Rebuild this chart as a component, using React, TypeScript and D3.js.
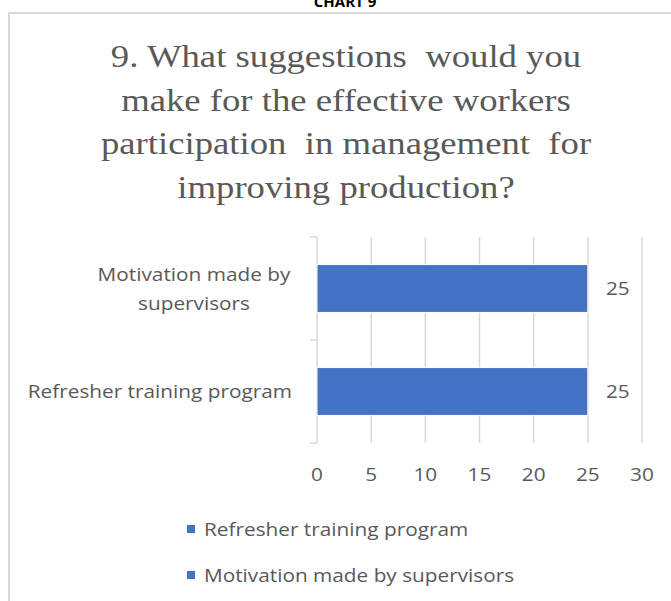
import React from "react";
import * as d3 from "d3";

const categories = ["Refresher training program", "Motivation made by supervisors"];
const values = [25, 25];
const xTicks = [0, 5, 10, 15, 20, 25, 30];
const catLines: Record<string, string[]> = {
  "Refresher training program": ["Refresher training program"],
  "Motivation made by supervisors": ["Motivation made by", "supervisors"],
};
const titleLines = [
  "9. What suggestions  would you",
  "make for the effective workers",
  "participation  in management  for",
  "improving production?",
];
const legendItems = ["Refresher training program", "Motivation made by supervisors"];

const W = 671;
const H = 601;
const SANS = "'Open Sans', 'Noto Sans', sans-serif";
const GRAY = "#595959";
const GRID = "#d9d9d9";
const BLUE = "#4472C4";
const STRETCH = 1.155;

function SText({ x, y, anchor = "start", children, size = 18 }: any) {
  return (
    <g transform={`translate(${x}, ${y}) scale(${STRETCH}, 1)`}>
      <text
        x={0}
        y={0}
        textAnchor={anchor}
        dominantBaseline="central"
        fontFamily={SANS}
        fontSize={size}
        fill={GRAY}
      >
        {children}
      </text>
    </g>
  );
}

export default function App() {
  const x = d3.scaleLinear().domain([0, 30]).range([317, 642]);
  const y = d3
    .scaleBand<string>()
    .domain([...categories].reverse())
    .range([237, 443])
    .paddingInner(0.535)
    .paddingOuter(0.2675);
  const top = 237;
  const bottom = 443;
  const boundaries = d3.range(categories.length + 1).map((i) => top + (i * (bottom - top)) / categories.length);

  return (
    <div style={{ position: "absolute", left: 0, top: 0 }}>
      <svg width={W} height={H} style={{ display: "block", background: "#fff" }}>
        <text x={345} y={7} textAnchor="middle" fontFamily={SANS} fontWeight="bold" fontSize={15} fill="#000">
          CHART 9
        </text>
        <path d={`M9,${H} V13 H${W}`} fill="none" stroke={GRID} strokeWidth={2} />
        {titleLines.map((t, i) => (
          <g key={i} transform={`translate(346, ${67 + i * 43.5}) scale(1.13, 1)`}>
            <text
              x={0}
              y={0}
              textAnchor="middle"
              fontFamily="'Liberation Serif', 'Times New Roman', serif"
              fontSize={32.5}
              fill={GRAY}
              style={{ whiteSpace: "pre" }}
            >
              {t}
            </text>
          </g>
        ))}
        {xTicks.map((t) => (
          <line key={t} x1={x(t)} x2={x(t)} y1={top} y2={bottom} stroke={GRID} strokeWidth={1.5} />
        ))}
        {boundaries.map((b, i) => (
          <line key={i} x1={x(0) - 7} x2={x(0)} y1={b} y2={b} stroke={GRID} strokeWidth={1.5} />
        ))}
        {categories.map((c, i) => (
          <rect
            key={c}
            x={x(0)}
            y={y(c)!}
            width={x(values[i]) - x(0)}
            height={y.bandwidth()}
            fill={BLUE}
            stroke="#fff"
            strokeWidth={1}
          />
        ))}
        {categories.map((c, i) => (
          <SText key={c} x={x(values[i]) + 30} y={y(c)! + y.bandwidth() / 2} anchor="middle">
            {values[i]}
          </SText>
        ))}
        {categories.map((c) => {
          const lines = catLines[c];
          const cy = y(c)! + y.bandwidth() / 2;
          const lh = 29;
          return lines.map((l, j) => (
            <SText
              key={c + j}
              x={lines.length > 1 ? 194 : 292}
              y={cy + (j - (lines.length - 1) / 2) * lh}
              anchor={lines.length > 1 ? "middle" : "end"}
            >
              {l}
            </SText>
          ));
        })}
        {xTicks.map((t) => (
          <SText key={t} x={x(t)} y={474} anchor="middle">
            {t}
          </SText>
        ))}
        {legendItems.map((l, i) => (
          <g key={l} transform={`translate(187, ${529 + i * 46})`}>
            <rect x={0} y={-4} width={8} height={8} fill={BLUE} />
            <SText x={17} y={0}>
              {l}
            </SText>
          </g>
        ))}
      </svg>
    </div>
  );
}
